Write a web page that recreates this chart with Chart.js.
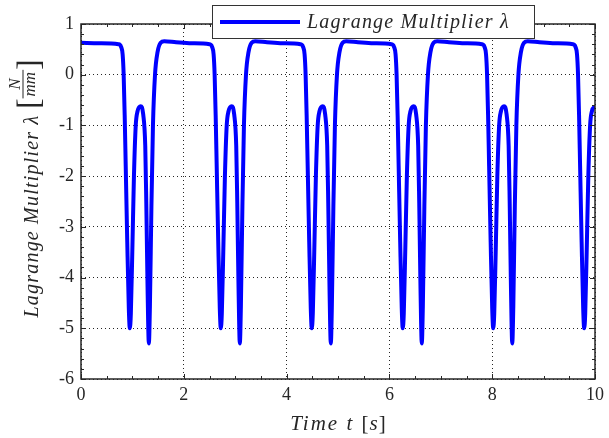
<!DOCTYPE html>
<html>
<head>
<meta charset="utf-8">
<title>Lagrange Multiplier</title>
<script src="https://cdn.jsdelivr.net/npm/chart.js@4.4.1/dist/chart.umd.min.js"></script>
<style>
  html, body { margin: 0; padding: 0; background: #fff; }
  #wrap { width: 609px; height: 438px; }
</style>
</head>
<body>
<div id="wrap"><canvas id="chartLambda" width="609" height="438"></canvas></div>
<script>
// Datos: tiempo [s] y multiplicador de Lagrange [N/mm]
const seriesLabel = 'Lagrange Multiplier λ';

const timeS = [
    0.00, 0.35,
    // ciclo 1
    0.73, 0.78, 0.81, 0.83, 0.85, 0.87, 0.90, 0.93, 0.95, 0.97, 1.00, 1.03, 1.065, 1.10, 1.16,
    1.21, 1.25, 1.27, 1.295, 1.32, 1.34, 1.37, 1.40, 1.44, 1.49, 1.55, 1.62, 1.85, 2.15,
    // ciclo 2
    2.50, 2.55, 2.58, 2.60, 2.62, 2.64, 2.67, 2.70, 2.72, 2.74, 2.77, 2.80, 2.835, 2.87, 2.93,
    2.98, 3.02, 3.04, 3.065, 3.09, 3.11, 3.14, 3.17, 3.21, 3.26, 3.32, 3.39, 3.62, 3.92,
    // ciclo 3
    4.27, 4.32, 4.35, 4.37, 4.39, 4.41, 4.44, 4.47, 4.49, 4.51, 4.54, 4.57, 4.605, 4.64, 4.70,
    4.75, 4.79, 4.81, 4.835, 4.86, 4.88, 4.91, 4.94, 4.98, 5.03, 5.09, 5.16, 5.39, 5.69,
    // ciclo 4
    6.04, 6.09, 6.12, 6.14, 6.16, 6.18, 6.21, 6.24, 6.26, 6.28, 6.31, 6.34, 6.375, 6.41, 6.47,
    6.52, 6.56, 6.58, 6.605, 6.63, 6.65, 6.68, 6.71, 6.75, 6.80, 6.86, 6.93, 7.16, 7.46,
    // ciclo 5
    7.80, 7.85, 7.88, 7.90, 7.92, 7.94, 7.97, 8.00, 8.02, 8.04, 8.07, 8.10, 8.135, 8.17, 8.23,
    8.28, 8.32, 8.34, 8.365, 8.39, 8.41, 8.44, 8.47, 8.51, 8.56, 8.62, 8.69, 8.92, 9.22,
    // ciclo 6 (cortado en t = 10)
    9.57, 9.62, 9.65, 9.67, 9.69, 9.71, 9.74, 9.77, 9.79, 9.81, 9.84, 9.87, 9.905, 9.94, 10.00
];

const lambdaN = [
    0.63, 0.62,
    // ciclo 1
    0.60, 0.55, 0.40, 0.00, -0.80, -1.80, -3.30, -4.60, -5.00, -4.70, -3.40, -2.00, -1.00, -0.72, -0.62,
    -0.78, -1.40, -2.50, -4.20, -5.30, -4.60, -2.60, -1.00, 0.00, 0.45, 0.63, 0.66, 0.64, 0.62,
    // ciclo 2
    0.60, 0.55, 0.40, 0.00, -0.80, -1.80, -3.30, -4.60, -5.00, -4.70, -3.40, -2.00, -1.00, -0.72, -0.62,
    -0.78, -1.40, -2.50, -4.20, -5.30, -4.60, -2.60, -1.00, 0.00, 0.45, 0.63, 0.66, 0.64, 0.62,
    // ciclo 3
    0.60, 0.55, 0.40, 0.00, -0.80, -1.80, -3.30, -4.60, -5.00, -4.70, -3.40, -2.00, -1.00, -0.72, -0.62,
    -0.78, -1.40, -2.50, -4.20, -5.30, -4.60, -2.60, -1.00, 0.00, 0.45, 0.63, 0.66, 0.64, 0.62,
    // ciclo 4
    0.60, 0.55, 0.40, 0.00, -0.80, -1.80, -3.30, -4.60, -5.00, -4.70, -3.40, -2.00, -1.00, -0.72, -0.62,
    -0.78, -1.40, -2.50, -4.20, -5.30, -4.60, -2.60, -1.00, 0.00, 0.45, 0.63, 0.66, 0.64, 0.62,
    // ciclo 5
    0.60, 0.55, 0.40, 0.00, -0.80, -1.80, -3.30, -4.60, -5.00, -4.70, -3.40, -2.00, -1.00, -0.72, -0.62,
    -0.78, -1.40, -2.50, -4.20, -5.30, -4.60, -2.60, -1.00, 0.00, 0.45, 0.63, 0.66, 0.64, 0.62,
    // ciclo 6
    0.60, 0.55, 0.40, 0.00, -0.80, -1.80, -3.30, -4.60, -5.00, -4.70, -3.40, -2.00, -1.00, -0.72, -0.62
];

// Ejes (limites y pasos de las marcas)
const xTickLimits = [0, 10];
const yTickLimits = [-6, 1];
const xMajorStep = 2, xMinorStep = 0.5;
const yMajorStep = 1, yMinorStep = 0.2;

// Estilo
const BLUE = '#0000ff';
const INK = '#262626';
const SERIF = "'Liberation Serif', 'DejaVu Serif', serif";

// Dibuja un texto con segmentos de distinta fuente (cursiva / recta)
function drawSegments(ctx, parts, x, y) {
    parts.forEach(p => {
        ctx.font = p.font;
        ctx.letterSpacing = p.ls || '0px';
        ctx.fillText(p.text, x, y);
        x += ctx.measureText(p.text).width;
    });
    ctx.letterSpacing = '0px';
}
function segmentsWidth(ctx, parts) {
    const w = parts.reduce((w, p) => {
        ctx.font = p.font; ctx.letterSpacing = p.ls || '0px';
        return w + ctx.measureText(p.text).width;
    }, 0);
    ctx.letterSpacing = '0px';
    return w;
}

// ------------------------------------------------------------
// Plugin estilo MATLAB: caja, marcas hacia dentro, titulos y leyenda
// ------------------------------------------------------------
const matlabAxes = {
    id: 'matlabAxes',
    afterDatasetsDraw(chart) {
        const { ctx, chartArea: a, scales: { x, y } } = chart;
        ctx.save();
        ctx.strokeStyle = INK;
        ctx.lineWidth = 1;

        // marcas menores y mayores en los cuatro lados
        ctx.beginPath();
        for (let i = 0; xTickLimits[0] + i * xMinorStep <= xTickLimits[1] + 1e-9; i++) {
            const v = xTickLimits[0] + i * xMinorStep;
            const len = Math.abs(v / xMajorStep - Math.round(v / xMajorStep)) < 1e-6 ? 5 : 3;
            const px = Math.round(x.getPixelForValue(v)) + 0.5;
            ctx.moveTo(px, a.bottom); ctx.lineTo(px, a.bottom - len);
            ctx.moveTo(px, a.top); ctx.lineTo(px, a.top + len);
        }
        for (let i = 0; yTickLimits[0] + i * yMinorStep <= yTickLimits[1] + 1e-9; i++) {
            const v = yTickLimits[0] + i * yMinorStep;
            const len = Math.abs(v / yMajorStep - Math.round(v / yMajorStep)) < 1e-6 ? 5 : 3;
            const py = Math.round(y.getPixelForValue(v)) + 0.5;
            ctx.moveTo(a.left, py); ctx.lineTo(a.left + len, py);
            ctx.moveTo(a.right, py); ctx.lineTo(a.right - len, py);
        }
        ctx.stroke();

        // caja
        ctx.lineWidth = 1.5;
        ctx.strokeRect(a.left, a.top, a.right - a.left, a.bottom - a.top);

        // titulo del eje X: Time t [s]
        ctx.fillStyle = INK;
        ctx.textBaseline = 'alphabetic';
        const it20 = 'italic 20px ' + SERIF;
        const xParts = [
            { text: 'Time t ', font: 'italic 21px ' + SERIF, ls: '2px' }, { text: '[', font: '21px ' + SERIF, ls: '1px' },
            { text: 's', font: 'italic 21px ' + SERIF, ls: '1px' }, { text: ']', font: '21px ' + SERIF }
        ];
        const xw = segmentsWidth(ctx, xParts);
        drawSegments(ctx, xParts, (a.left + a.right) / 2 - xw / 2, 430);

        // titulo del eje Y: Lagrange Multiplier λ [N/mm] (rotado)
        ctx.save();
        ctx.translate(38, (a.top + a.bottom) / 2 - 13);
        ctx.rotate(-Math.PI / 2);
        ctx.font = it20;
        ctx.letterSpacing = '1.2px';
        const wMain = ctx.measureText(seriesLabel).width;
        ctx.letterSpacing = '0px';
        ctx.font = '31px ' + SERIF;
        const wBr = ctx.measureText('[').width;
        ctx.font = 'italic 17px ' + SERIF;
        const wFrac = Math.max(ctx.measureText('N').width, ctx.measureText('mm').width) + 4;
        const total = wMain + 6 + wBr * 2 + wFrac;
        let tx = -total / 2;
        ctx.font = it20;
        ctx.letterSpacing = '1.2px';
        ctx.fillText(seriesLabel, tx, 0);
        ctx.letterSpacing = '0px';
        tx += wMain + 6;
        ctx.font = '31px ' + SERIF;
        ctx.fillText('[', tx, 1);
        tx += wBr;
        ctx.font = 'italic 17px ' + SERIF;
        ctx.textAlign = 'center';
        ctx.fillText('N', tx + wFrac / 2, -18);
        ctx.fillText('mm', tx + wFrac / 2, -3);
        ctx.textAlign = 'left';
        ctx.fillRect(tx, -15.5, wFrac, 1);
        tx += wFrac;
        ctx.font = '31px ' + SERIF;
        ctx.fillText(']', tx, 1);
        ctx.restore();

        // leyenda
        const ds = chart.data.datasets[0];
        ctx.fillStyle = '#ffffff';
        ctx.fillRect(212, 5, 322, 33);
        ctx.strokeStyle = '#333333';
        ctx.lineWidth = 1;
        ctx.strokeRect(212.5, 5.5, 322, 33);
        ctx.strokeStyle = ds.borderColor;
        ctx.lineWidth = 4;
        ctx.beginPath();
        ctx.moveTo(220, 22); ctx.lineTo(300, 22);
        ctx.stroke();
        ctx.fillStyle = INK;
        ctx.font = it20;
        ctx.letterSpacing = '1.2px';
        ctx.fillText(ds.label, 307, 28);
        ctx.letterSpacing = '0px';

        ctx.restore();
    }
};

new Chart(document.getElementById('chartLambda'), {
    type: 'line',
    data: {
        datasets: [{
            label: seriesLabel,
            data: timeS.map((t, i) => ({ x: t, y: lambdaN[i] })),
            borderColor: BLUE,
            backgroundColor: BLUE,
            borderWidth: 4,
            pointRadius: 0,
            cubicInterpolationMode: 'monotone',
            fill: false
        }]
    },
    options: {
        responsive: false,
        animation: false,
        devicePixelRatio: 1,
        layout: { padding: { left: 0, right: 11, top: 24, bottom: 0 } },
        plugins: { legend: { display: false }, tooltip: { enabled: false } },
        scales: {
            x: {
                type: 'linear',
                min: xTickLimits[0], max: xTickLimits[1],
                ticks: { stepSize: xMajorStep, color: INK, padding: 5, maxRotation: 0, font: { family: SERIF, size: 18 } },
                grid: { color: INK, lineWidth: 1, drawTicks: false },
                border: { display: false, dash: [1, 3] },
                afterFit: (s) => { s.height = 59; }
            },
            y: {
                min: yTickLimits[0], max: yTickLimits[1],
                ticks: { stepSize: yMajorStep, color: INK, padding: 7, font: { family: SERIF, size: 18 } },
                grid: { color: INK, lineWidth: 1, drawTicks: false },
                border: { display: false, dash: [1, 3] },
                afterFit: (s) => { s.width = 81; }
            }
        }
    },
    plugins: [matlabAxes]
});
</script>
</body>
</html>
